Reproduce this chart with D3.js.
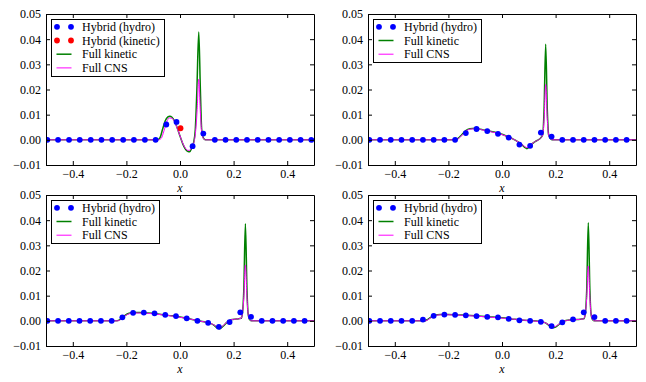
<!DOCTYPE html>
<html>
<head>
<meta charset="utf-8">
<script src="https://cdn.jsdelivr.net/npm/d3@7"></script>
<style>
  body { margin: 0; background: #fff; }
  svg { display: block; }
  svg text { font-family: 'Liberation Serif', 'Times New Roman', 'DejaVu Serif', serif; }
</style>
</head>
<body>
<svg id="chart" width="646" height="382"></svg>
<script>
const FONT = "'Liberation Serif', 'Times New Roman', 'DejaVu Serif', serif";

const xTicks = [-0.4, -0.2, 0.0, 0.2, 0.4];
const xTickLabels = ['\u22120.4', '\u22120.2', '0.0', '0.2', '0.4'];
const yTicks = [-0.01, 0.0, 0.01, 0.02, 0.03, 0.04, 0.05];
const yTickLabels = ['\u22120.01', '0.00', '0.01', '0.02', '0.03', '0.04', '0.05'];

// cell centres of the hybrid solver (panels 2-4)
const gridX = [-0.495, -0.455, -0.415, -0.375, -0.335, -0.295, -0.255, -0.215, -0.175, -0.135,
  -0.095, -0.055, -0.015, 0.025, 0.065, 0.105, 0.145, 0.185, 0.225, 0.265,
  0.305, 0.345, 0.385, 0.425, 0.465];

// panel 1
const hydroX1 = [-0.495, -0.455, -0.414, -0.374, -0.333, -0.293, -0.253, -0.212, -0.172, -0.131,
  -0.091, -0.051, -0.013, 0.047, 0.087, 0.13, 0.17, 0.21, 0.25, 0.29,
  0.33, 0.37, 0.41, 0.45, 0.49];
const hydroY1 = [0, 0, 0, 0, 0, 0, 0, 0, 0, 0,
  0, 0.0061, 0.0071, -0.0025, 0.0025, 0, 0, 0, 0, 0,
  0, 0, 0, 0, 0];
const kineticX1 = [0.002];
const kineticY1 = [0.0046];
const fullKinetic1 = [[-0.5, 0], [-0.085, 0], [-0.075, 0.0008], [-0.065, 0.0042], [-0.055, 0.0076],
  [-0.045, 0.0091], [-0.038, 0.0094], [-0.03, 0.009], [-0.02, 0.0074], [-0.01, 0.0046],
  [0.0, 0.0015], [0.01, -0.0015], [0.02, -0.0037], [0.03, -0.0046], [0.036, -0.0047],
  [0.044, -0.0032], [0.051, -0.001], [0.057, 0.004], [0.063, 0.02], [0.07, 0.0428],
  [0.076, 0.02], [0.081, 0.004], [0.087, 0.0008], [0.095, 0], [0.5, 0]];
const fullCNS1 = [[-0.5, 0], [-0.08, 0], [-0.07, 0.0006], [-0.06, 0.0035], [-0.05, 0.007],
  [-0.04, 0.0087], [-0.03, 0.0086], [-0.02, 0.0071], [-0.01, 0.0045], [0.0, 0.0016],
  [0.01, -0.0013], [0.02, -0.0033], [0.03, -0.0042], [0.037, -0.0041], [0.045, -0.0028],
  [0.052, -0.001], [0.058, 0.003], [0.064, 0.012], [0.07, 0.0241], [0.076, 0.011],
  [0.081, 0.003], [0.087, 0.0006], [0.095, 0], [0.5, 0]];

// panel 2
const hydroY2 = [0, 0, 0, 0, 0, 0, 0, 0, 0, 0.0027,
  0.0043, 0.0035, 0.0024, 0.0009, -0.0019, -0.0024, 0.0029, 0.0013, 0, 0,
  0, 0, 0, 0, 0];
const fullKinetic2 = [[-0.5, 0], [-0.178, 0], [-0.165, 0.0005], [-0.15, 0.002], [-0.135, 0.0037],
  [-0.12, 0.0044], [-0.1, 0.0046], [-0.08, 0.0042], [-0.06, 0.0037], [-0.04, 0.0033],
  [-0.02, 0.0028], [0.0, 0.0022], [0.02, 0.0013], [0.04, 0.0004], [0.06, -0.0008],
  [0.075, -0.002], [0.085, -0.003], [0.093, -0.0035], [0.1, -0.003], [0.11, -0.0018],
  [0.125, -0.0006], [0.14, 0.0003], [0.152, 0.002], [0.157, 0.012], [0.163, 0.038],
  [0.169, 0.012], [0.174, 0.002], [0.183, 0.0003], [0.19, 0], [0.5, 0]];
const fullCNS2 = [[-0.5, 0], [-0.175, 0], [-0.162, 0.0005], [-0.148, 0.002], [-0.133, 0.0036],
  [-0.12, 0.0042], [-0.1, 0.0044], [-0.08, 0.0041], [-0.06, 0.0036], [-0.04, 0.0032],
  [-0.02, 0.0027], [0.0, 0.0021], [0.02, 0.0013], [0.04, 0.0004], [0.06, -0.0008],
  [0.075, -0.0019], [0.085, -0.0027], [0.093, -0.0031], [0.1, -0.0027], [0.11, -0.0017],
  [0.125, -0.0006], [0.14, 0.0003], [0.152, 0.002], [0.157, 0.008], [0.163, 0.022],
  [0.169, 0.008], [0.174, 0.002], [0.183, 0.0003], [0.19, 0], [0.5, 0]];

// panel 3
const hydroY3 = [0, 0, 0, 0, 0, 0, 0, 0.0014, 0.0032, 0.0033,
  0.003, 0.0024, 0.0019, 0.001, 0.0, -0.0008, -0.0024, -0.0005, 0.0034, 0.0016,
  0, 0, 0, 0, 0];
const fullKinetic3 = [[-0.5, 0], [-0.235, 0], [-0.22, 0.0008], [-0.205, 0.0022], [-0.19, 0.003],
  [-0.17, 0.0033], [-0.15, 0.0033], [-0.12, 0.0031], [-0.09, 0.0028], [-0.06, 0.0024],
  [-0.03, 0.002], [0.0, 0.0015], [0.03, 0.0009], [0.06, 0.0002], [0.09, -0.0004],
  [0.11, -0.0009], [0.125, -0.0016], [0.14, -0.0029], [0.148, -0.0031], [0.16, -0.0022],
  [0.175, -0.0006], [0.19, 0.0004], [0.21, 0.0007], [0.228, 0.001], [0.233, 0.003],
  [0.238, 0.012], [0.244, 0.0386], [0.25, 0.012], [0.254, 0.003], [0.26, 0.0005],
  [0.267, 0], [0.5, 0]];
const fullCNS3 = [[-0.5, 0], [-0.232, 0], [-0.218, 0.0008], [-0.203, 0.0021], [-0.19, 0.0028],
  [-0.17, 0.0031], [-0.15, 0.0031], [-0.12, 0.003], [-0.09, 0.0027], [-0.06, 0.0023],
  [-0.03, 0.0019], [0.0, 0.0014], [0.03, 0.0009], [0.06, 0.0002], [0.09, -0.0004],
  [0.11, -0.0009], [0.125, -0.0015], [0.14, -0.0026], [0.148, -0.0028], [0.16, -0.002],
  [0.175, -0.0005], [0.19, 0.0004], [0.21, 0.0007], [0.228, 0.001], [0.233, 0.003],
  [0.238, 0.009], [0.244, 0.0222], [0.25, 0.009], [0.254, 0.003], [0.26, 0.0005],
  [0.267, 0], [0.5, 0]];

// panel 4
const hydroY4 = [0, 0, 0, 0, 0, 0.0005, 0.002, 0.0025, 0.0024, 0.0022,
  0.0019, 0.0016, 0.0014, 0.0008, 0.0002, 0.0, -0.0004, -0.0021, -0.0006, 0.0006,
  0.0034, 0.0015, 0, 0, 0];
const fullKinetic4 = [[-0.5, 0], [-0.29, 0], [-0.278, 0.0005], [-0.265, 0.0015], [-0.25, 0.0022],
  [-0.23, 0.0025], [-0.2, 0.0025], [-0.15, 0.0023], [-0.1, 0.002], [-0.05, 0.0016],
  [0.0, 0.0012], [0.05, 0.0006], [0.1, 0.0001], [0.14, -0.0003], [0.16, -0.0007],
  [0.175, -0.0018], [0.19, -0.0027], [0.2, -0.0025], [0.215, -0.0012], [0.23, -0.0002],
  [0.25, 0.0003], [0.28, 0.0005], [0.305, 0.0008], [0.311, 0.003], [0.316, 0.012],
  [0.322, 0.039], [0.328, 0.012], [0.332, 0.003], [0.338, 0.0005], [0.345, 0], [0.5, 0]];
const fullCNS4 = [[-0.5, 0], [-0.287, 0], [-0.275, 0.0005], [-0.262, 0.0015], [-0.248, 0.0021],
  [-0.23, 0.0024], [-0.2, 0.0024], [-0.15, 0.0022], [-0.1, 0.0019], [-0.05, 0.0015],
  [0.0, 0.0011], [0.05, 0.0006], [0.1, 0.0001], [0.14, -0.0003], [0.16, -0.0007],
  [0.175, -0.0016], [0.19, -0.0024], [0.2, -0.0022], [0.215, -0.0011], [0.23, -0.0002],
  [0.25, 0.0003], [0.28, 0.0005], [0.305, 0.0008], [0.311, 0.003], [0.316, 0.009],
  [0.322, 0.0218], [0.328, 0.009], [0.332, 0.003], [0.338, 0.0005], [0.345, 0], [0.5, 0]];

const panels = [
  { left: 46, top: 14, hydroX: hydroX1, hydroY: hydroY1, kinX: kineticX1, kinY: kineticY1, kinetic: fullKinetic1, cns: fullCNS1 },
  { left: 368, top: 14, hydroX: gridX, hydroY: hydroY2, kinetic: fullKinetic2, cns: fullCNS2 },
  { left: 46, top: 195, hydroX: gridX, hydroY: hydroY3, kinetic: fullKinetic3, cns: fullCNS3 },
  { left: 368, top: 195, hydroX: gridX, hydroY: hydroY4, kinetic: fullKinetic4, cns: fullCNS4 }
];

const W = 268, H = 151;
const svg = d3.select('#chart').attr('font-family', FONT);

panels.forEach((p, i) => drawPanel(p, i));

function drawPanel(p, i) {
  const g = svg.append('g').attr('transform', `translate(${p.left},${p.top})`);

  const x = d3.scaleLinear().domain([-0.5, 0.5]).range([0, W]);
  const y = d3.scaleLinear().domain([-0.01, 0.05]).range([H, 0]);

  g.append('clipPath').attr('id', 'clip' + i)
    .append('rect').attr('width', W).attr('height', H);

  const plot = g.append('g').attr('clip-path', `url(#clip${i})`);

  const line = d3.line()
    .x(d => x(d[0]))
    .y(d => y(d[1]))
    .curve(d3.curveMonotoneX);

  plot.append('path').datum(p.kinetic)
    .attr('d', line).attr('fill', 'none')
    .attr('stroke', '#008000').attr('stroke-width', 1.5);

  plot.append('path').datum(p.cns)
    .attr('d', line).attr('fill', 'none')
    .attr('stroke', '#ff00ff').attr('stroke-width', 1);

  plot.selectAll('.hydro').data(p.hydroX).enter().append('circle')
    .attr('class', 'hydro')
    .attr('cx', d => x(d))
    .attr('cy', (d, j) => y(p.hydroY[j]))
    .attr('r', 2.9)
    .attr('fill', '#0000ff');

  if (p.kinX) {
    plot.selectAll('.kin').data(p.kinX).enter().append('circle')
      .attr('class', 'kin')
      .attr('cx', d => x(d))
      .attr('cy', (d, j) => y(p.kinY[j]))
      .attr('r', 2.9)
      .attr('fill', '#ff0000');
  }

  // axes: ticks point inward on all four sides
  const bottom = g.append('g').attr('transform', `translate(0,${H})`)
    .call(d3.axisBottom(x).tickValues(xTicks).tickSizeInner(-4).tickSizeOuter(0).tickPadding(4)
      .tickFormat((d, j) => xTickLabels[j]));
  const top = g.append('g')
    .call(d3.axisTop(x).tickValues(xTicks).tickSizeInner(-4).tickSizeOuter(0).tickFormat(''));
  const left = g.append('g')
    .call(d3.axisLeft(y).tickValues(yTicks).tickSizeInner(-4).tickSizeOuter(0).tickPadding(5)
      .tickFormat((d, j) => yTickLabels[j]));
  const right = g.append('g').attr('transform', `translate(${W},0)`)
    .call(d3.axisRight(y).tickValues(yTicks).tickSizeInner(-4).tickSizeOuter(0).tickFormat(''));

  [bottom, top, left, right].forEach(a => {
    a.attr('font-family', FONT).attr('font-size', 12);
    a.selectAll('path, line').attr('stroke', '#000');
    a.selectAll('text').attr('fill', '#000').attr('font-family', FONT);
  });

  g.append('text')
    .attr('x', W / 2).attr('y', H + 27)
    .attr('text-anchor', 'middle')
    .attr('font-family', FONT)
    .attr('font-size', 12)
    .attr('font-style', 'italic')
    .text('x');

  drawLegend(g, p);
}

function drawLegend(g, p) {
  const entries = [{ label: 'Hybrid (hydro)', type: 'dot', color: '#0000ff' }];
  if (p.kinX) entries.push({ label: 'Hybrid (kinetic)', type: 'dot', color: '#ff0000' });
  entries.push({ label: 'Full kinetic', type: 'line', color: '#008000', width: 1.5 });
  entries.push({ label: 'Full CNS', type: 'line', color: '#ff00ff', width: 1 });

  const lg = g.append('g').attr('transform', 'translate(5,5)');
  const rowH = 13.7;
  const box = lg.append('rect')
    .attr('fill', '#fff').attr('stroke', '#000').attr('stroke-width', 1);

  let maxW = 0;
  entries.forEach((e, k) => {
    const cy = 7.8 + k * rowH;
    if (e.type === 'dot') {
      [6, 20].forEach(cx => lg.append('circle')
        .attr('cx', cx).attr('cy', cy).attr('r', 2.9).attr('fill', e.color));
    } else {
      lg.append('line')
        .attr('x1', 5.5).attr('x2', 20.5).attr('y1', cy).attr('y2', cy)
        .attr('stroke', e.color).attr('stroke-width', e.width);
    }
    const t = lg.append('text')
      .attr('x', 31).attr('y', cy).attr('dy', '0.35em')
      .attr('font-family', FONT)
      .attr('font-size', 12)
      .text(e.label);
    maxW = Math.max(maxW, t.node().getComputedTextLength());
  });

  box.attr('x', 0.5).attr('y', 0.5)
    .attr('width', Math.round(31 + maxW + 4))
    .attr('height', Math.round(7.8 + (entries.length - 1) * rowH + 8));
}
</script>
</body>
</html>
